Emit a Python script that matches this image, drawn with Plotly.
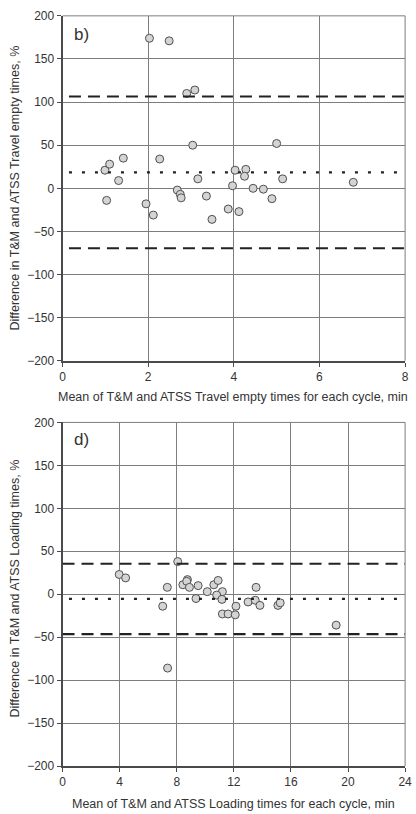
import plotly.graph_objects as go

# ---- Data: panel b) Travel empty times ----
b_mean_x = [2.03, 2.49, 2.90, 3.09, 3.04, 5.00, 0.99, 1.10, 1.42, 1.31, 2.27, 6.79, 3.16, 5.14,
            4.03, 4.28, 4.25, 3.97, 4.45, 4.69, 4.89, 2.68, 2.75, 2.77, 3.36, 1.03, 1.95, 2.12,
            3.49, 3.87, 4.12]
b_diff_y = [174, 171, 110, 114, 50, 52, 21, 28, 35, 9, 34, 7, 11, 11,
            21, 22, 14, 3, 0, -1, -12, -2, -7, -11, -9, -14, -18, -31,
            -36, -24, -27]
b_bias = 18.5
b_upper = 106.5
b_lower = -69.5

# ---- Data: panel d) Loading times ----
d_mean_x = [3.97, 4.42, 8.07, 7.34, 8.43, 8.75, 8.70, 8.89, 9.50, 10.14, 10.60, 10.90, 11.20, 13.56,
            7.02, 7.36, 9.35, 10.80, 11.17, 11.20, 11.60, 12.10, 12.15, 13.00, 13.50, 13.83,
            15.09, 15.25, 19.17]
d_diff_y = [23, 19, 38, 8, 11, 17, 15, 8, 10, 3, 11, 16, 3, 8,
            -14, -86, -5, -1, -6, -23, -23, -24, -14, -9, -7, -13,
            -13, -10, -36]
d_bias = -5.5
d_upper = 35.5
d_lower = -46.5

x_ticks_b = [0, 2, 4, 6, 8]
x_ticks_d = [0, 4, 8, 12, 16, 20, 24]
y_ticks = [-200, -150, -100, -50, 0, 50, 100, 150, 200]

FONT = "Liberation Sans Narrow, Arial Narrow, Liberation Sans, Arial, sans-serif"
W, H = 416, 814
L, R = 61, 412
top_dom = [1 - 360 / H, 1 - 9 / H]
bot_dom = [1 - 772.3 / H, 1 - 422.7 / H]
GRID = "#7d7d7d"

fig = go.Figure()
marker = dict(size=8, color="#d4d4d4", line=dict(color="#505050", width=1))
fig.add_trace(go.Scatter(x=b_mean_x, y=b_diff_y, mode="markers", marker=marker,
                         xaxis="x", yaxis="y", showlegend=False))
fig.add_trace(go.Scatter(x=d_mean_x, y=d_diff_y, mode="markers", marker=marker,
                         xaxis="x2", yaxis="y2", showlegend=False))

def hline(xref, yref, x0, x1, y, dash, width):
    fig.add_shape(type="line", xref=xref, yref=yref, x0=x0, x1=x1, y0=y, y1=y,
                  line=dict(color="#222222", width=width, dash=dash), layer="above")

hline("x", "y", 0.15, 8, b_upper, "12px,7px", 2.2)
hline("x", "y", 0.15, 8, b_lower, "12px,7px", 2.2)
hline("x", "y", 0.15, 8, b_bias, "3px,10px", 2.2)
hline("x2", "y2", 0, 24, d_upper, "12px,7px", 2.2)
hline("x2", "y2", 0, 24, d_lower, "12px,7px", 2.2)
hline("x2", "y2", 0.45, 24, d_bias, "3px,10px", 2.2)

axis_common = dict(showgrid=True, gridcolor=GRID, gridwidth=1, zeroline=False,
                   showline=True, linecolor="#4a4a4a", linewidth=1.8,
                   ticks="outside", ticklen=4, tickcolor="#4a4a4a", tickwidth=1,
                   tickfont=dict(family=FONT, size=12, color="#333333"))

fig.update_layout(
    width=W, height=H,
    margin=dict(l=0, r=0, t=0, b=0),
    paper_bgcolor="white", plot_bgcolor="white",
    xaxis=dict(domain=[L / W, R / W], range=[0, 8], tickvals=x_ticks_b, anchor="y", **axis_common),
    yaxis=dict(domain=top_dom, range=[-200, 200], tickvals=y_ticks, anchor="x", **axis_common),
    xaxis2=dict(domain=[L / W, R / W], range=[0, 24], tickvals=x_ticks_d, anchor="y2", **axis_common),
    yaxis2=dict(domain=bot_dom, range=[-200, 200], tickvals=y_ticks, anchor="x2", **axis_common),
)

# right/top border lines (gridline-coloured)
for xr, yr in (("x", "y"), ("x2", "y2")):
    fig.add_shape(type="line", xref=f"{xr} domain", yref=f"{yr} domain", x0=1, x1=1, y0=0, y1=1,
                  line=dict(color=GRID, width=1), layer="below")
    fig.add_shape(type="line", xref=f"{xr} domain", yref=f"{yr} domain", x0=0, x1=1, y0=1, y1=1,
                  line=dict(color=GRID, width=1), layer="below")

def ann(text, x, y, size=12, angle=0, xanchor="center", yanchor="middle"):
    fig.add_annotation(text=text, xref="paper", yref="paper", x=x / W, y=1 - y / H,
                       showarrow=False, textangle=angle, xanchor=xanchor, yanchor=yanchor,
                       font=dict(family=FONT, size=size, color="#333333"))

ann("b)", 71, 28, size=17, xanchor="left")
ann("d)", 71, 440, size=17, xanchor="left")
ann("Mean of T&amp;M and ATSS Travel empty times for each cycle, min", 236, 397, size=12.5)
ann("Mean of T&amp;M and ATSS Loading times for each cycle, min", 236, 811, size=12.5)
ann("Difference in T&amp;M and ATSS Travel empty times, %", 12, 184, size=12.5, angle=-90)
ann("Difference in T&amp;M and ATSS Loading times, %", 12, 592, size=12.5, angle=-90)

fig.write_html("out.html")
